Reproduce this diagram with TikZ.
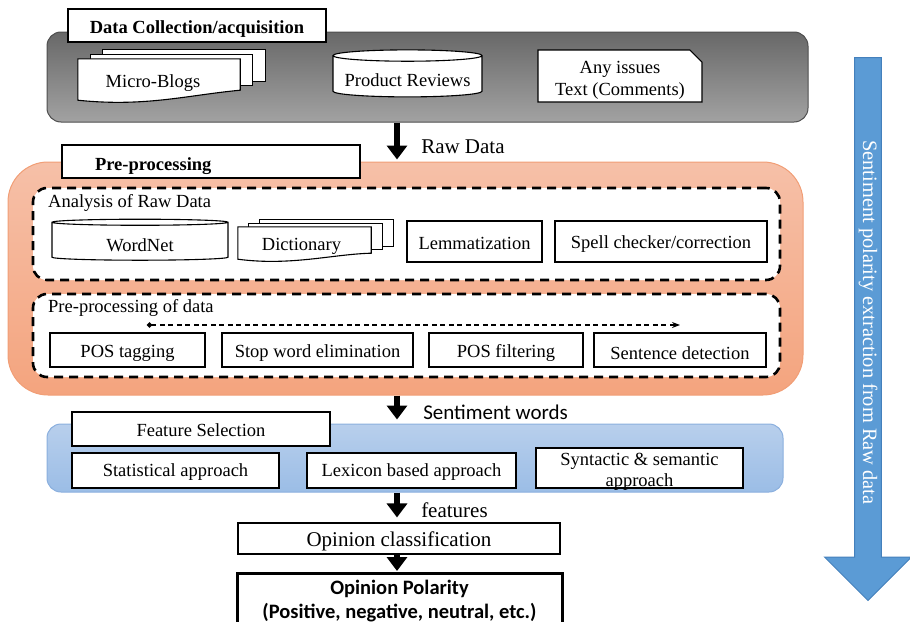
\documentclass[tikz,border=0pt]{standalone}
\usepackage{fontspec}
\setmainfont{Liberation Serif}
\newfontfamily\calibri{Carlito}
\usetikzlibrary{arrows.meta,calc,shapes.geometric,shapes.misc,shapes.arrows}
\definecolor{GrayTop}{RGB}{104,104,104}
\definecolor{GrayBottom}{RGB}{162,162,162}
\definecolor{GrayEdge}{RGB}{78,78,78}
\definecolor{OrangeTop}{RGB}{246,192,168}
\definecolor{OrangeBottom}{RGB}{244,164,126}
\definecolor{OrangeEdge}{RGB}{241,158,118}
\definecolor{BlueTop}{RGB}{184,207,236}
\definecolor{BlueBottom}{RGB}{155,189,230}
\definecolor{BlueEdge}{RGB}{138,175,222}
\definecolor{FlowBlue}{RGB}{91,155,213}
\definecolor{FlowEdge}{RGB}{68,128,188}
\newcommand{\boxfont}{\fontsize{18.5}{21}\selectfont}
\newcommand{\labelfont}{\fontsize{21}{24}\selectfont}
% lower the ink of a text without changing its box
\newcommand{\sink}[2][3pt]{\raisebox{-#1}[\height][\depth]{#2}}
% stacked pages behind a document node: #1 node, #2/#3 page shift, #4 rise of right corner
\newcommand{\docstack}[4]{%
  \foreach \k in {2,1}{
    \draw[tbox] ($(#1.north west)+(\k*#2,-\k*#3)$) rectangle ($(#1.south east)+(\k*#2,-\k*#3-#4)$);
  }
  \draw[tbox] (#1.north west) -- (#1.north east) -- ($(#1.south east)+(0,-#4)$)
    .. controls ($(#1.south)+(28,-5)$) and ($(#1.south)+(-14,7)$) .. (#1.south west) -- cycle;
}
\tikzset{
  >=Latex,
  tbox/.style={draw=black,line width=1.1pt,fill=white,inner sep=0pt,align=center,font=\boxfont},
  heading/.style={tbox,font=\boxfont\bfseries},
  boxtext/.style={inner sep=0pt,font=\boxfont,align=center},
  docfront/.style={inner sep=0pt},
  store/.style={tbox,cylinder,shape border rotate=90,aspect=.09},
  memo/.style={tbox,chamfered rectangle,chamfered rectangle corners=north east,chamfered rectangle xsep=9pt},
  stage/.style={rounded corners=14pt,line width=1pt,inner sep=0pt},
  grayStage/.style={stage,draw=GrayEdge,top color=GrayTop,bottom color=GrayBottom},
  orangeStage/.style={stage,rounded corners=40pt,draw=OrangeEdge,top color=OrangeTop,bottom color=OrangeBottom},
  blueStage/.style={stage,draw=BlueEdge,top color=BlueTop,bottom color=BlueBottom},
  group/.style={draw=black,line width=2.6pt,dash pattern=on 9pt off 6pt,rounded corners=14pt,fill=white,inner sep=0pt},
  grouplabel/.style={inner sep=0pt,font=\boxfont},
  result/.style={draw=black,line width=3pt,fill=white,inner sep=0pt,align=center,font=\calibri\bfseries\fontsize{20.5}{24}\selectfont},
  blk/.style={-{Triangle[width=20pt,length=14pt]},line width=6.5pt,draw=black},
  flowlabel/.style={inner sep=0pt,font=\labelfont},
  seq/.style={{Circle[length=5pt]}-{Stealth[length=8pt,width=6pt]},line width=1.3pt,dash pattern=on 5pt off 3.5pt},
  bigflow/.style={single arrow,rotate=-90,draw=FlowEdge,line width=1pt,fill=FlowBlue,text=white,minimum height=543pt,minimum width=87pt,single arrow head extend=22.5pt,single arrow head indent=0pt,inner sep=0pt,font=\fontsize{20.4}{23}\selectfont}
}
\begin{document}
\begin{tikzpicture}[x=1pt,y=-1pt]
  \useasboundingbox (0,0) rectangle (910,621);
  \coordinate (spine) at (397,0);
  % data collection
  \node[grayStage,minimum width=761pt,minimum height=90pt] (collect) at (427.5,77) {};
  \node[heading,minimum width=258pt,minimum height=33pt] (collectTitle) at (197,25.5) {\sink[4pt]{Data Collection/acquisition}};
  \node[docfront,minimum width=162pt,minimum height=41pt] (blogs) at (159,79.5) {};
  \docstack{blogs}{12.5}{4.5}{10}
  \node[boxtext] (blogsText) at ($(blogs)+(-6,0)$) {\sink[4pt]{Micro-Blogs}};
  \node[store,minimum width=149pt,minimum height=47pt] (reviews) at (407.5,76.5) {\sink[4pt]{Product Reviews}};
  \node[memo,minimum width=164pt,minimum height=52pt,font=\fontsize{18.5}{22}\selectfont] (issues) at (620,76) {\sink[4pt]{Any issues}\\\sink[4pt]{Text (Comments)}};
  % pre-processing
  \node[orangeStage,minimum width=795pt,minimum height=233pt] (prepro) at (405.5,278.5) {};
  \node[tbox,text width=298pt,minimum height=33pt,align=left] (preTitle) at (211,161.5) {\hspace*{33pt}\sink[5pt]{\textbf{Pre-processing}}};
  \node[group,minimum width=747pt,minimum height=92pt] (analysis) at (406.5,234) {};
  \node[grouplabel,anchor=west] (analysisCap) at (48,203) {Analysis of Raw Data};
  \node[store,minimum width=176pt,minimum height=41pt] (wordnet) at (140,241.5) {\sink[4pt]{WordNet}};
  \node[docfront,minimum width=133pt,minimum height=32pt] (dict) at (304.5,243) {};
  \docstack{dict}{11}{3.5}{6}
  \node[boxtext] (dictText) at ($(dict)+(-3,0)$) {\sink{Dictionary}};
  \node[tbox,minimum width=135pt,minimum height=41pt] (lemma) at (474.5,241.5) {\sink[2pt]{Lemmatization}};
  \node[tbox,minimum width=212pt,minimum height=41pt] (spell) at (661,241.5) {\sink{Spell checker/correction}};
  \node[group,minimum width=747pt,minimum height=83pt] (cleaning) at (406.5,335.5) {};
  \node[grouplabel,anchor=west] (cleaningCap) at (48,308) {Pre-processing of data};
  \coordinate (seqStart) at (147,325);
  \coordinate (seqEnd) at (680,325);
  \draw[seq] (seqStart) -- (seqEnd);
  \node[tbox,minimum width=155pt,minimum height=34pt] (tagging) at (127.5,350) {\sink{POS tagging}};
  \node[tbox,minimum width=191pt,minimum height=34pt] (stopword) at (317.5,350) {\sink{Stop word elimination}};
  \node[tbox,minimum width=154pt,minimum height=34pt] (filtering) at (506,350) {\sink{POS filtering}};
  \node[tbox,minimum width=172pt,minimum height=34pt] (sentence) at (680,350) {\sink{Sentence detection}};
  % feature selection
  \node[blueStage,minimum width=736pt,minimum height=68pt] (feature) at (415,458) {};
  \node[tbox,minimum width=258pt,minimum height=34pt] (featTitle) at (201,429) {\sink[1pt]{Feature Selection}};
  \node[tbox,minimum width=207pt,minimum height=35pt] (statistical) at (175.5,470.5) {\sink[2pt]{Statistical approach}};
  \node[tbox,minimum width=209pt,minimum height=35pt] (lexicon) at (411.5,470.5) {\sink[2pt]{Lexicon based approach}};
  \node[tbox,minimum width=207pt,minimum height=40pt,font=\fontsize{18.5}{20.5}\selectfont] (syntactic) at (639.5,468) {\sink[4pt]{Syntactic \& semantic}\\\sink[4pt]{approach}};
  % classification
  \node[tbox,minimum width=322pt,minimum height=31pt,font=\labelfont] (classify) at (399,538.5) {\sink{Opinion classification}};
  \node[result,minimum width=325pt,minimum height=56pt,anchor=north] (polarity) at (399.5,572) {Opinion Polarity\\(Positive, negative, neutral, etc.)};
  % flow between stages
  \draw[blk,shorten >=2pt] (collect.south -| spine) -- node[flowlabel,pos=.62,right=21pt]{Raw Data} (prepro.north -| spine);
  \draw[blk,shorten >=4pt] (prepro.south -| spine) -- node[flowlabel,pos=.6,right=23pt,font=\calibri\fontsize{21}{24}\selectfont]{Sentiment words} (feature.north -| spine);
  \draw[blk,shorten >=5pt] (feature.south -| spine) -- node[flowlabel,pos=.58,right=21pt]{features} (classify.north -| spine);
  \draw[blk,shorten >=1pt] (classify.south -| spine) -- (polarity.north -| spine);
  \node[bigflow,anchor=tail] (flowArrow) at (868,57) {Sentiment polarity extraction from Raw data};
\end{tikzpicture}
\end{document}
